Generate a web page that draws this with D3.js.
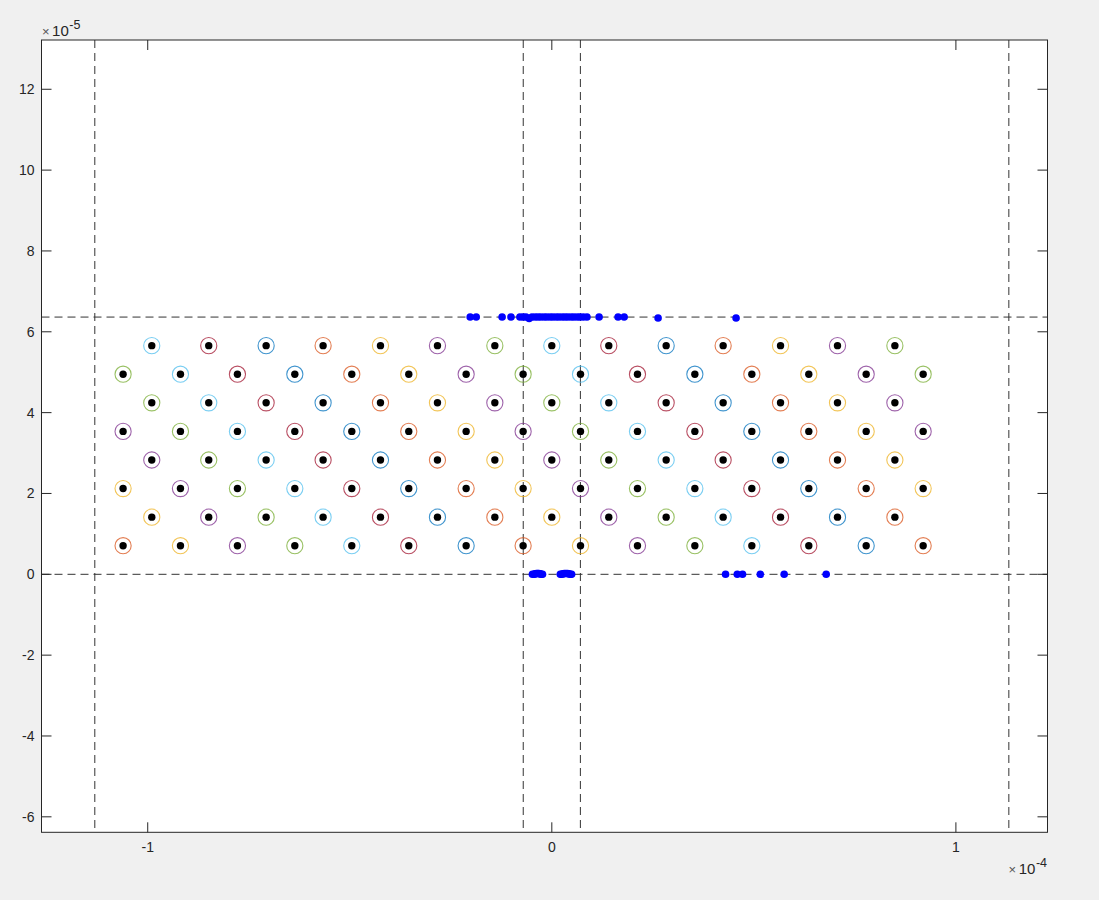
<!DOCTYPE html>
<html>
<head>
<meta charset="utf-8">
<script src="https://cdn.jsdelivr.net/npm/d3@7"></script>
<style>
  html, body { margin: 0; padding: 0; background: #f0f0f0; }
  svg { display: block; }
  text { font-family: "Liberation Sans", Arial, sans-serif; fill: #262626; }
</style>
</head>
<body>
<svg id="chart" width="1099" height="900"></svg>
<script>
// ---- data (x in units of 1e-4, y in units of 1e-5) ----
const xTicks = [-1, 0, 1];
const yTicks = [-6, -4, -2, 0, 2, 4, 6, 8, 10, 12];

// lattice rows (bottom to top)
const rowY = [0.707, 1.414, 2.121, 2.828, 3.536, 4.243, 4.950, 5.657];
const oddRowX = [-1.061, -0.919, -0.778, -0.636, -0.495, -0.354, -0.212, -0.071,
                 0.071, 0.212, 0.354, 0.495, 0.636, 0.778, 0.919];
const evenRowX = [-0.990, -0.849, -0.707, -0.566, -0.424, -0.283, -0.141, 0.000,
                  0.141, 0.283, 0.424, 0.566, 0.707, 0.849];
const ringRadius = 0.02; // in x units (1e-4) -> 2e-6

// dashed reference lines
const vLines = [-1.131, -0.0707, 0.0707, 1.131];
const hLines = [0, 6.364];

// blue points on the upper line
const topDotsX = [-0.202, -0.187, -0.123, -0.101, -0.079, -0.071, -0.064, -0.056, -0.049,
                  -0.041, -0.034, -0.027, -0.019, -0.012, -0.004, 0.003, 0.011, 0.018,
                  0.026, 0.033, 0.040, 0.048, 0.055, 0.063, 0.070, 0.078, 0.087, 0.117,
                  0.164, 0.179, 0.263, 0.456];
const topDotsY = [6.364, 6.364, 6.364, 6.364, 6.364, 6.364, 6.364, 6.330, 6.364,
                  6.364, 6.364, 6.364, 6.364, 6.364, 6.364, 6.364, 6.364, 6.364,
                  6.364, 6.364, 6.364, 6.364, 6.364, 6.364, 6.364, 6.364, 6.364, 6.364,
                  6.364, 6.364, 6.340, 6.340];
// blue points on the zero line
const botDotsX = [-0.048, -0.044, -0.041, -0.038, -0.035, -0.032, -0.029, -0.026, -0.023,
                  0.021, 0.024, 0.028, 0.031, 0.035, 0.039, 0.042, 0.046, 0.049,
                  0.430, 0.459, 0.472, 0.516, 0.575, 0.679];
const botDotsY = [0, 0, 0.01, 0.02, 0.02, 0.02, 0.01, 0, 0,
                  0, 0, 0.01, 0.02, 0.02, 0.02, 0.01, 0, 0,
                  0, 0, 0, 0, 0, 0];

const palette = ["#0072BD", "#D95319", "#EDB120", "#7E2F8E", "#77AC30", "#4DBEEE", "#A2142F"];

// ---- layout ----
const L = 41.5, R = 1047.5, T = 40, B = 832.3;
const x = d3.scaleLinear().domain([-1.2629, 1.2267]).range([L, R]);
const y = d3.scaleLinear().domain([-6.383, 13.219]).range([B, T]);
const pxPerX = (x(1) - x(0)); // px per 1e-4

const svg = d3.select("#chart");
svg.append("rect").attr("x", 0).attr("y", 0).attr("width", 1099).attr("height", 900).attr("fill", "#f0f0f0");
svg.append("rect").attr("x", L).attr("y", T).attr("width", R - L).attr("height", B - T).attr("fill", "#ffffff");

svg.append("clipPath").attr("id", "clip").append("rect")
  .attr("x", L).attr("y", T).attr("width", R - L).attr("height", B - T);
const plot = svg.append("g").attr("clip-path", "url(#clip)");

// dashed lines
plot.selectAll("line.v").data(vLines).enter().append("line")
  .attr("x1", d => x(d)).attr("x2", d => x(d)).attr("y1", T).attr("y2", B)
  .attr("stroke", "#333").attr("stroke-width", 1).attr("stroke-dasharray", "8,5");
plot.selectAll("line.h").data(hLines).enter().append("line")
  .attr("x1", L).attr("x2", R).attr("y1", d => y(d)).attr("y2", d => y(d))
  .attr("stroke", "#333").attr("stroke-width", 1).attr("stroke-dasharray", "8,5");

// lattice points
const pts = [];
rowY.forEach((ry, i) => {
  const xs = (i % 2 === 0) ? oddRowX : evenRowX;
  xs.forEach(px => pts.push({ x: px, y: ry }));
});
pts.forEach((p, i) => { p.c = palette[(i + 1) % palette.length]; });

plot.selectAll("circle.ring").data(pts).enter().append("circle")
  .attr("cx", d => x(d.x)).attr("cy", d => y(d.y))
  .attr("r", ringRadius * pxPerX)
  .attr("fill", "none").attr("stroke", d => d.c).attr("stroke-width", 1.1).attr("stroke-opacity", 0.75);
plot.selectAll("circle.dot").data(pts).enter().append("circle")
  .attr("cx", d => x(d.x)).attr("cy", d => y(d.y)).attr("r", 3.7).attr("fill", "#000");

// blue points
plot.selectAll("circle.top").data(topDotsX).enter().append("circle")
  .attr("cx", d => x(d)).attr("cy", (d, i) => y(topDotsY[i])).attr("r", 3.8).attr("fill", "#0000ff");
plot.selectAll("circle.bot").data(botDotsX).enter().append("circle")
  .attr("cx", d => x(d)).attr("cy", (d, i) => y(botDotsY[i])).attr("r", 3.8).attr("fill", "#0000ff");

// ---- axes ----
const axisG = svg.append("g");
const tickLen = 10;
const fmt = d => (d < 0 ? "-" + Math.abs(d) : String(d));
xTicks.forEach(t => {
  const xx = x(t);
  axisG.append("line").attr("x1", xx).attr("x2", xx).attr("y1", B).attr("y2", B - tickLen).attr("stroke", "#262626");
  axisG.append("line").attr("x1", xx).attr("x2", xx).attr("y1", T).attr("y2", T + tickLen).attr("stroke", "#262626");
  axisG.append("text").attr("x", xx).attr("y", 851.5).attr("text-anchor", "middle")
    .attr("font-size", "14px").text(fmt(t));
});
yTicks.forEach(t => {
  const yy = y(t);
  axisG.append("line").attr("x1", L).attr("x2", L + tickLen).attr("y1", yy).attr("y2", yy).attr("stroke", "#262626");
  axisG.append("line").attr("x1", R).attr("x2", R - tickLen).attr("y1", yy).attr("y2", yy).attr("stroke", "#262626");
  axisG.append("text").attr("x", 34.5).attr("y", yy + 5).attr("text-anchor", "end")
    .attr("font-size", "14px").text(fmt(t));
});
axisG.append("rect").attr("x", L).attr("y", T).attr("width", R - L).attr("height", B - T)
  .attr("fill", "none").attr("stroke", "#262626").attr("stroke-width", 1);

// exponent labels
function expLabel(xPos, yPos, exp, anchor) {
  const t = svg.append("text").attr("x", xPos).attr("y", yPos).attr("text-anchor", anchor).attr("font-size", "15px");
  t.append("tspan").attr("font-size", "13px").attr("fill", "#555").text("\u00d7");
  t.append("tspan").attr("dx", 2.5).text("10");
  t.append("tspan").attr("font-size", "12.5px").attr("dx", 0.5).attr("dy", -7).text(exp);
}
expLabel(42, 36, "-5", "start");
expLabel(1047, 873.5, "-4", "end");
</script>
</body>
</html>
